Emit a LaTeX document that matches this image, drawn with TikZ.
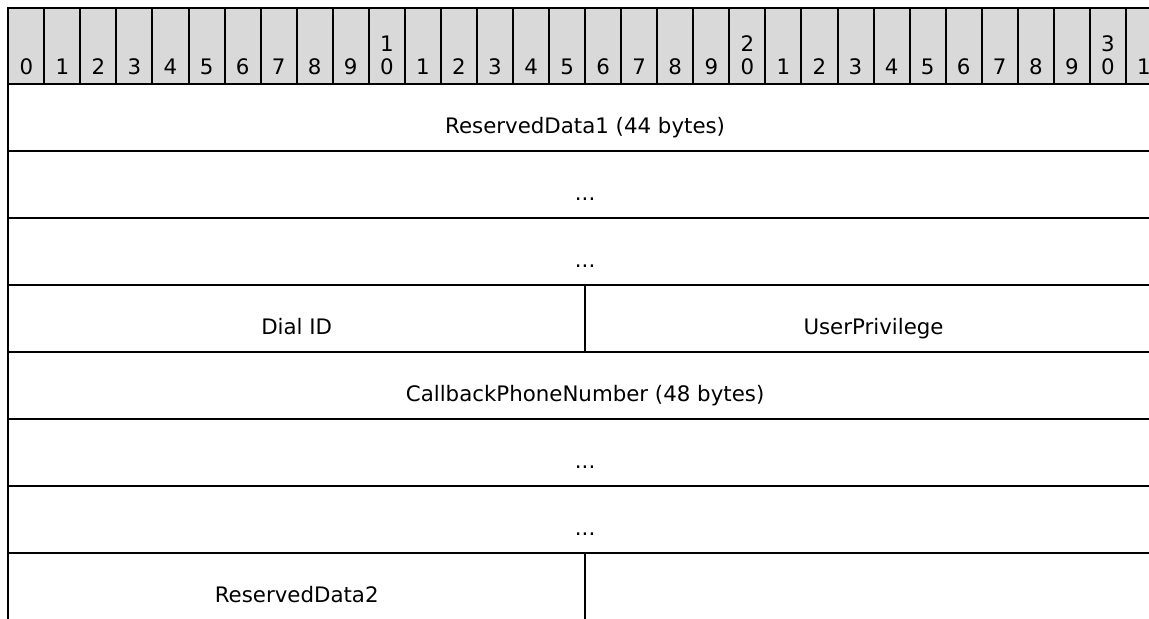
\documentclass[tikz,border=0pt]{standalone}
\usepackage{fontspec}
\setmainfont{DejaVu Sans}
\usepackage{tikz}
\usetikzlibrary{positioning}
\definecolor{hdrgray}{HTML}{D9D9D9}

\begin{document}
\begin{tikzpicture}[x=1pt,y=1pt,line width=1.5pt,outer sep=0pt,
    font=\fontsize{16}{19}\selectfont,
    bitcell/.style={draw,fill=hdrgray,minimum width=27.04pt,minimum height=57pt,inner sep=0pt},
    bitnum/.style={anchor=base,inner sep=0pt},
    field/.style={draw,minimum width=865.28pt,minimum height=50.3pt,inner sep=0pt,text height=23.25pt,text depth=0pt},
    half/.style={field,minimum width=432.64pt}]
    \useasboundingbox (0,0) rectangle (861.75,-463.5);

    % header with bit numbers
    \foreach \i in {0,...,31} {
      \pgfmathtruncatemacro{\units}{mod(\i,10)}
      \pgfmathtruncatemacro{\tens}{\i/10}
      \node[bitcell] (h\i) at ({6.2+(\i+0.5)*27.04},-34.5) {};
      \node[bitnum] (n\i) at ({6.2+(\i+0.5)*27.04},-55.5) {\units};
      \ifnum\units=0 \ifnum\i>0
        \node[bitnum] (t\i) at ({6.2+(\i+0.5)*27.04},-38.3) {\tens};
      \fi\fi
    }

    % fields
    \node[field,anchor=north west] (rsvdA) at (h0.south west) {ReservedData1 (44 bytes)};
    \node[field,below=0pt of rsvdA] (rsvdAb) {...};
    \node[field,below=0pt of rsvdAb] (rsvdAc) {...};
    \node[half,anchor=north west] (dialid) at (rsvdAc.south west) {Dial ID};
    \node[half,right=0pt of dialid] (userpriv) {UserPrivilege};
    \node[field,anchor=north west] (cbnum) at (dialid.south west) {CallbackPhoneNumber (48 bytes)};
    \node[field,below=0pt of cbnum] (cbnumb) {...};
    \node[field,below=0pt of cbnumb] (cbnumc) {...};
    \node[half,anchor=north west] (rsvdB) at (cbnumc.south west) {ReservedData2};
  \end{tikzpicture}
\end{document}
